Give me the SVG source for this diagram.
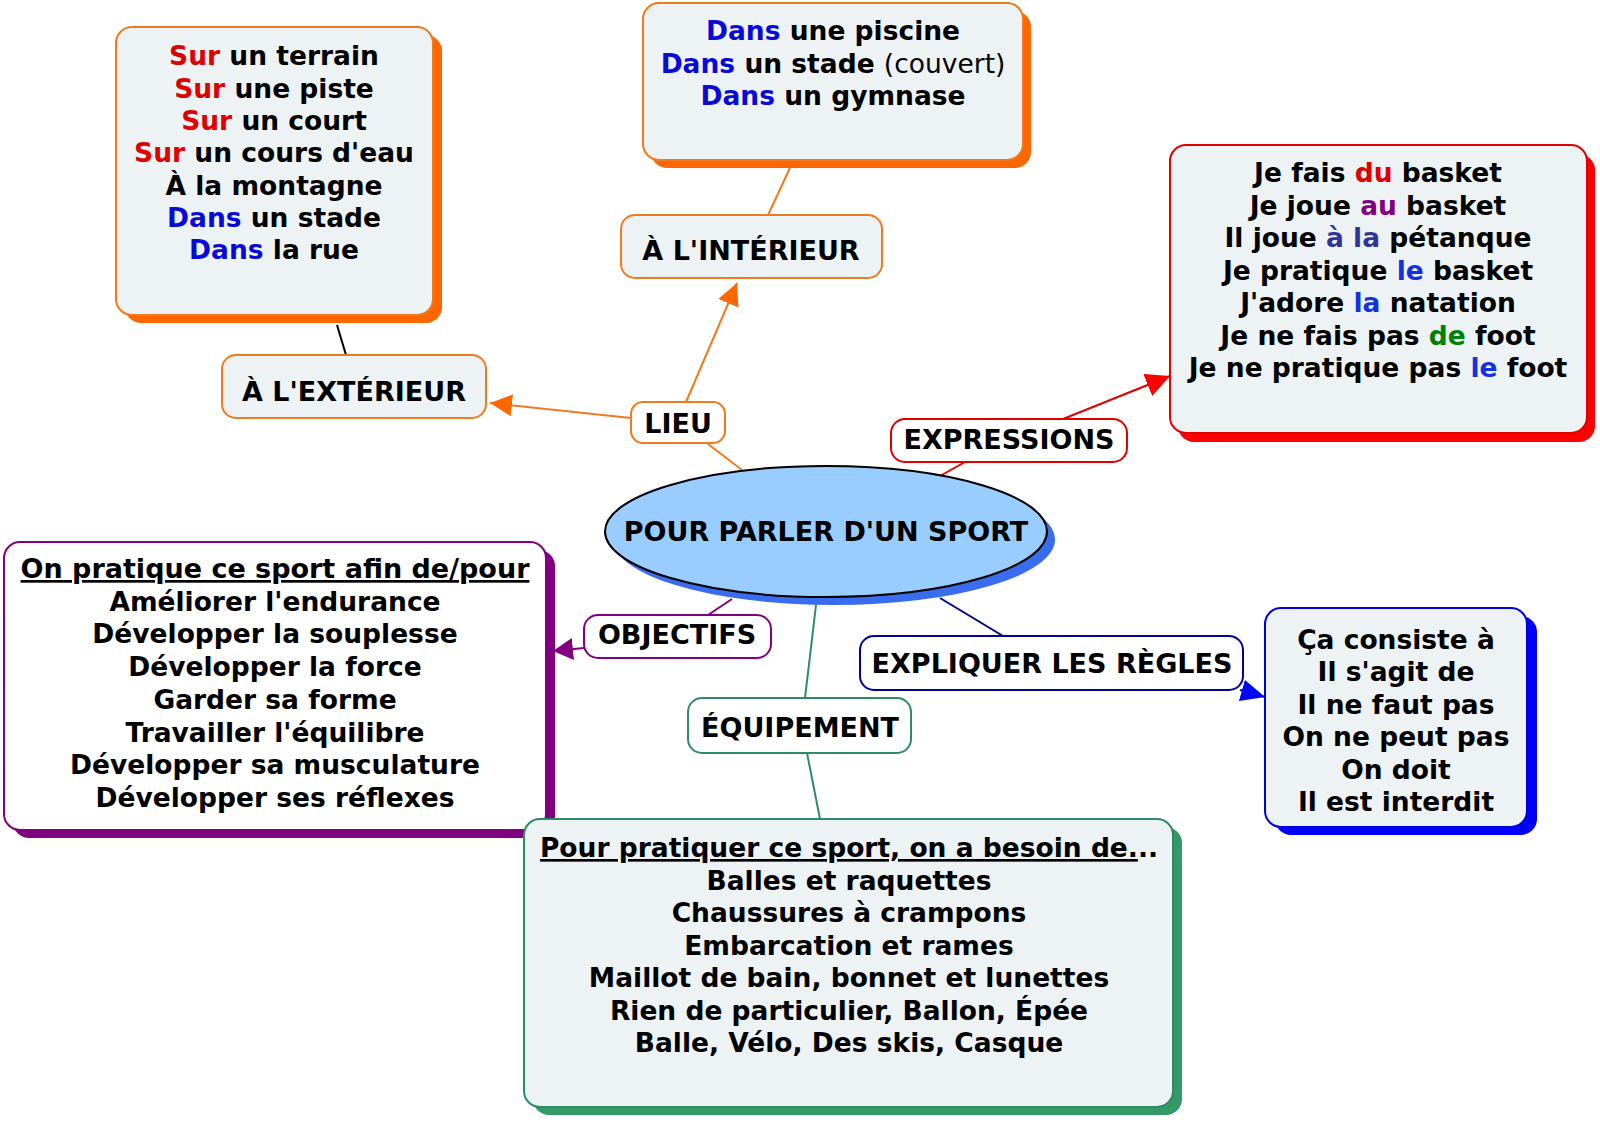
<svg xmlns="http://www.w3.org/2000/svg" width="1600" height="1122" viewBox="0 0 1600 1122">
<defs>
<style>
text{font-family:"DejaVu Sans",Verdana,"Liberation Sans",sans-serif;font-weight:bold;font-size:26.5px;fill:#000;text-anchor:middle}
.big{font-size:27px}
.nw{font-weight:normal}
.cr{fill:#e00000}.cb{fill:#0a0ad8}.cp{fill:#800080}.cn{fill:#333399}.cl{fill:#1430e0}.cg{fill:#008000}
.ln{fill:none;stroke-width:2}
.panel{fill:#edf3f5;stroke-width:2}
.lbl{fill:#ffffff;stroke-width:2}
</style>
<marker id="aO" markerUnits="userSpaceOnUse" markerWidth="24" markerHeight="24" refX="22" refY="11" orient="auto"><path d="M0,0 L22,11 L0,22 z" fill="#ff6600"/></marker>
<marker id="aR" markerUnits="userSpaceOnUse" markerWidth="26" markerHeight="26" refX="24" refY="12" orient="auto"><path d="M0,0 L24,12 L0,24 z" fill="#ff0000"/></marker>
<marker id="aP" markerUnits="userSpaceOnUse" markerWidth="24" markerHeight="24" refX="20" refY="11" orient="auto"><path d="M0,0 L20,11 L0,22 z" fill="#800080"/></marker>
<marker id="aB" markerUnits="userSpaceOnUse" markerWidth="26" markerHeight="26" refX="24" refY="11" orient="auto"><path d="M0,0 L24,11 L0,22 z" fill="#0000ff"/></marker>
</defs>
<rect width="1600" height="1122" fill="#ffffff"/>

<g id="connectors">
<line class="ln" x1="742" y1="470" x2="708" y2="444" stroke="#f07a1e"/>
<line class="ln" x1="631" y1="418" x2="490" y2="403" stroke="#f07a1e" marker-end="url(#aO)"/>
<line class="ln" x1="686" y1="402" x2="737" y2="283" stroke="#f07a1e" marker-end="url(#aO)"/>
<line class="ln" x1="346" y1="355" x2="337" y2="325" stroke="#000000"/>
<line class="ln" x1="768" y1="215" x2="790" y2="168" stroke="#f07a1e"/>
<line class="ln" x1="940" y1="476" x2="965" y2="462" stroke="#e00000"/>
<line class="ln" x1="1063" y1="419" x2="1170" y2="376" stroke="#e00000" marker-end="url(#aR)"/>
<line class="ln" x1="732" y1="599" x2="708" y2="615" stroke="#800080"/>
<line class="ln" x1="584" y1="648" x2="553" y2="651" stroke="#800080" marker-end="url(#aP)"/>
<line class="ln" x1="816" y1="605" x2="805" y2="698" stroke="#2e8b66"/>
<line class="ln" x1="807" y1="753" x2="820" y2="819" stroke="#2e8b66"/>
<line class="ln" x1="940" y1="598" x2="1003" y2="636" stroke="#000080"/>
<line class="ln" x1="1240" y1="690" x2="1265" y2="697" stroke="#000080" marker-end="url(#aB)"/>
</g>

<g id="center">
<ellipse cx="834" cy="539.5" rx="221" ry="65.5" fill="#3a6cf0"/>
<ellipse cx="826" cy="531.5" rx="221" ry="65.5" fill="#99ccff" stroke="#000" stroke-width="2"/>
<text class="big" x="826" y="541">POUR PARLER D'UN SPORT</text>
</g>

<g id="lieu">
<rect class="lbl" x="631" y="402" width="94" height="41" rx="12" stroke="#f07a1e"/>
<text class="big" x="678" y="433">LIEU</text>
</g>

<g id="exterieur">
<rect class="panel" x="222" y="355" width="264" height="63" rx="14" stroke="#f07a1e"/>
<text class="big" x="354" y="401">À L'EXTÉRIEUR</text>
</g>

<g id="interieur">
<rect class="panel" x="621" y="215" width="261" height="63" rx="14" stroke="#f07a1e"/>
<text class="big" x="751" y="260">À L'INTÉRIEUR</text>
</g>

<g id="exterieur-list">
<rect x="125" y="35" width="317" height="288" rx="16" fill="#ff6600"/>
<rect class="panel" x="116" y="27" width="317" height="288" rx="16" stroke="#f07a1e"/>
<text x="274" y="65"><tspan class="cr">Sur</tspan> un terrain</text>
<text x="274" y="97.5"><tspan class="cr">Sur</tspan> une piste</text>
<text x="274" y="130"><tspan class="cr">Sur</tspan> un court</text>
<text x="274" y="162"><tspan class="cr">Sur</tspan> un cours d'eau</text>
<text x="274" y="194.5">À la montagne</text>
<text x="274" y="227"><tspan class="cb">Dans</tspan> un stade</text>
<text x="274" y="259"><tspan class="cb">Dans</tspan> la rue</text>
</g>

<g id="interieur-list">
<rect x="651" y="11" width="380" height="157" rx="16" fill="#ff6600"/>
<rect class="panel" x="643" y="3" width="380" height="157" rx="16" stroke="#f07a1e"/>
<text x="833" y="40"><tspan class="cb">Dans</tspan> une piscine</text>
<text x="833" y="72.5"><tspan class="cb">Dans</tspan> un stade <tspan class="nw">(couvert)</tspan></text>
<text x="833" y="105"><tspan class="cb">Dans</tspan> un gymnase</text>
</g>

<g id="expressions">
<rect class="lbl" x="891" y="419" width="236" height="43" rx="14" stroke="#e00000"/>
<text class="big" x="1009" y="449">EXPRESSIONS</text>
</g>

<g id="expressions-list">
<rect x="1178" y="154" width="417" height="288" rx="16" fill="#ff0000"/>
<rect class="panel" x="1170" y="145" width="417" height="288" rx="16" stroke="#e00000"/>
<text x="1378" y="182">Je fais <tspan class="cr">du</tspan> basket</text>
<text x="1378" y="214.5">Je joue <tspan class="cp">au</tspan> basket</text>
<text x="1378" y="247">Il joue <tspan class="cn">à la</tspan> pétanque</text>
<text x="1378" y="279.5">Je pratique <tspan class="cl">le</tspan> basket</text>
<text x="1378" y="312">J'adore <tspan class="cl">la</tspan> natation</text>
<text x="1378" y="344.5">Je ne fais pas <tspan class="cg">de</tspan> foot</text>
<text x="1378" y="377">Je ne pratique pas <tspan class="cl">le</tspan> foot</text>
</g>

<g id="objectifs">
<rect class="lbl" x="584" y="615" width="187" height="43" rx="14" stroke="#800080"/>
<text class="big" x="677" y="644">OBJECTIFS</text>
</g>

<g id="objectifs-list">
<rect x="13" y="550" width="542" height="288" rx="16" fill="#800080"/>
<rect x="4" y="542" width="542" height="288" rx="16" fill="#ffffff" stroke="#800080" stroke-width="2"/>
<text class="big" x="275" y="578" text-decoration="underline">On pratique ce sport afin de/pour</text>
<text x="275" y="610.7">Améliorer l'endurance</text>
<text x="275" y="643.4">Développer la souplesse</text>
<text x="275" y="676">Développer la force</text>
<text x="275" y="708.8">Garder sa forme</text>
<text x="275" y="741.5">Travailler l'équilibre</text>
<text x="275" y="774.2">Développer sa musculature</text>
<text x="275" y="807">Développer ses réflexes</text>
</g>

<g id="equipement">
<rect class="lbl" x="688" y="698" width="223" height="55" rx="14" stroke="#2e8b66"/>
<text class="big" x="800" y="737">ÉQUIPEMENT</text>
</g>

<g id="equipement-list">
<rect x="533" y="827" width="649" height="288" rx="16" fill="#339966"/>
<rect class="panel" x="524" y="819" width="649" height="288" rx="16" stroke="#2e8b66"/>
<text x="849" y="857"><tspan text-decoration="underline">Pour pratiquer ce sport, on a besoin de.</tspan>..</text>
<text x="849" y="889.5">Balles et raquettes</text>
<text x="849" y="922">Chaussures à crampons</text>
<text x="849" y="954.5">Embarcation et rames</text>
<text x="849" y="987">Maillot de bain, bonnet et lunettes</text>
<text x="849" y="1019.5">Rien de particulier, Ballon, Épée</text>
<text x="849" y="1052">Balle, Vélo, Des skis, Casque</text>
</g>

<g id="regles">
<rect class="lbl" x="860" y="636" width="383" height="54" rx="14" stroke="#000099"/>
<text class="big" x="1052" y="673">EXPLIQUER LES RÈGLES</text>
</g>

<g id="regles-list">
<rect x="1275" y="616" width="262" height="219" rx="16" fill="#0000ff"/>
<rect class="panel" x="1265" y="608" width="262" height="219" rx="16" stroke="#0000dd"/>
<text x="1396" y="648.5">Ça consiste à</text>
<text x="1396" y="681">Il s'agit de</text>
<text x="1396" y="713.5">Il ne faut pas</text>
<text x="1396" y="746">On ne peut pas</text>
<text x="1396" y="778.5">On doit</text>
<text x="1396" y="811">Il est interdit</text>
</g>
</svg>
